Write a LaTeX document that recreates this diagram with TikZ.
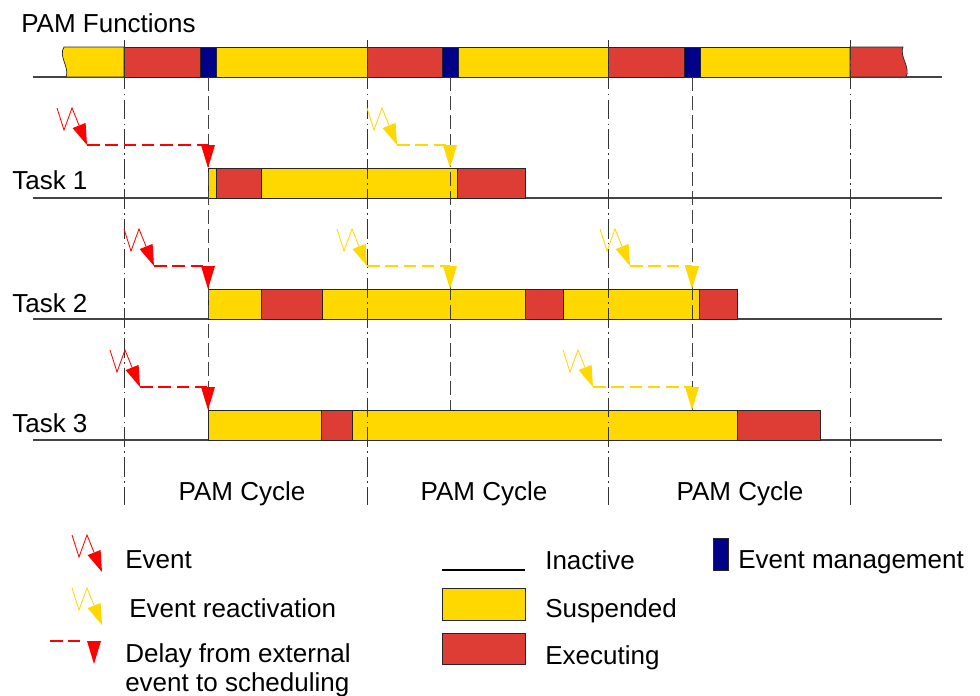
\documentclass[tikz,border=0pt]{standalone}
\usepackage{fontspec}
\setmainfont{Liberation Sans}
\definecolor{pamyellow}{HTML}{FFD800}
\definecolor{pamred}{HTML}{DE3D35}
\definecolor{pamblue}{HTML}{000088}
\definecolor{pamgrey}{HTML}{444444}
\tikzset{
  lbl/.style={font=\fontsize{18.5}{22}\selectfont, inner sep=0pt, anchor=base west},
  bar/.style={draw=black!85, line width=0.5pt},
  inact/.style={draw=pamgrey, line width=0.8pt},
  cycleln/.style={draw=black!80, line width=0.6pt, dash pattern=on 14pt off 3pt on 1.2pt off 3pt},
  schedln/.style={draw=black!75, line width=0.6pt, dash pattern=on 10pt off 3.5pt},
  bolt/.style={line width=0.6pt, line join=miter},
  delayln/.style={line width=0.8pt, dash pattern=on 9pt off 4pt},
}
% zigzag event symbol with its head: start x, start y, colour
\newcommand{\evbolt}[3]{%
  \draw[bolt, color=#3] (#1,#2) -- ++(7,22) -- ++(8,-22) -- ++(7.1,17.5);
  \fill[#3] (#1,#2) ++(30,37) -- ++(-1.4,-22.1) -- ++(-13,5.2) -- cycle;}
% scheduling head pointing down: x, top y, colour
\newcommand{\schedhead}[3]{%
  \fill[#3] (#1,#2) ++(-7,0) -- ++(14,0) -- ++(-7,23) -- cycle;}

\begin{document}
\begin{tikzpicture}[x=0.25mm, y=-0.25mm]
  \useasboundingbox (0,0) rectangle (980,695);
  % inactive base lines
  \foreach \y in {77,198,319,440} { \draw[inact] (33,\y) -- (942,\y); }
  % PAM functions bar
  \draw[bar, fill=pamyellow] (64,47) .. controls (58,56) and (70,68) .. (66,77) -- (124,77) -- (124,47) -- cycle;
  \foreach \a/\b/\c in {124/200/pamred, 200/216/pamblue, 216/367/pamyellow, 367/442/pamred,
                        442/458/pamblue, 458/608/pamyellow, 608/684/pamred, 684/700/pamblue,
                        700/850/pamyellow} {
    \draw[bar, fill=\c] (\a,47) rectangle (\b,77);
  }
  \draw[bar, fill=pamred] (850,47) -- (903,47) .. controls (899,56) and (911,68) .. (906,77) -- (850,77) -- cycle;
  % task bars
  \foreach \a/\b/\c in {208/216/pamyellow, 216/261/pamred, 261/457/pamyellow, 457/525/pamred} {
    \draw[bar, fill=\c] (\a,168) rectangle (\b,198);
  }
  \foreach \a/\b/\c in {208/261/pamyellow, 261/322/pamred, 322/525/pamyellow, 525/563/pamred,
                        563/699/pamyellow, 699/737/pamred} {
    \draw[bar, fill=\c] (\a,289) rectangle (\b,319);
  }
  \foreach \a/\b/\c in {208/321/pamyellow, 321/352/pamred, 352/737/pamyellow, 737/820/pamred} {
    \draw[bar, fill=\c] (\a,410) rectangle (\b,440);
  }
  % cycle limits and scheduling points
  \foreach \x in {124,367,608,850} { \draw[cycleln] (\x,40) -- (\x,505); }
  \foreach \x in {208,450,692} { \draw[schedln] (\x,77) -- (\x,410); }
  % events, delay and scheduling
  \foreach \sx/\sy/\dx/\c in {57/108/208/red, 367/108/450/pamyellow,
                              124/229/208/red, 337/229/450/pamyellow, 600/229/692/pamyellow,
                              110/350/208/red, 563/350/692/pamyellow} {
    \evbolt{\sx}{\sy}{\c}
    \draw[delayln, color=\c] (\sx+30,\sy+37) -- (\dx,\sy+37);
    \schedhead{\dx}{\sy+37}{\c}
  }
  % labels
  \node[lbl] (pamfn) at (21,32) {PAM Functions};
  \foreach \n/\y in {1/189,2/312,3/432} { \node[lbl] (task\n) at (12,\y) {Task \n}; }
  \foreach \x [count=\i] in {242,484,740} { \node[lbl, anchor=base] (cyc\i) at (\x,500) {PAM Cycle}; }
  % legend
  \evbolt{72}{535}{red}
  \evbolt{72}{588}{pamyellow}
  \draw[delayln, color=red] (50,641) -- (80,641);
  \schedhead{94}{641}{red}
  \node[lbl] (lgevent) at (125,568) {Event};
  \node[lbl] (lgreact) at (129,617) {Event reactivation};
  \node[lbl] (lgdelay) at (125,662) {Delay from external};
  \node[lbl] (lgdelayb) at (125,691) {event to scheduling};
  \draw[line width=0.8pt] (442,570) -- (525,570);
  \draw[bar, fill=pamyellow] (442,588) rectangle (525,620);
  \draw[bar, fill=pamred] (442,633) rectangle (525,664);
  \draw[bar, fill=pamblue] (713,538) rectangle (728,570);
  \node[lbl] (lginact) at (545,569) {Inactive};
  \node[lbl] (lgsusp) at (545,617) {Suspended};
  \node[lbl] (lgexec) at (545,664) {Executing};
  \node[lbl] (lgmgmt) at (738,568) {Event management};
\end{tikzpicture}
\end{document}
